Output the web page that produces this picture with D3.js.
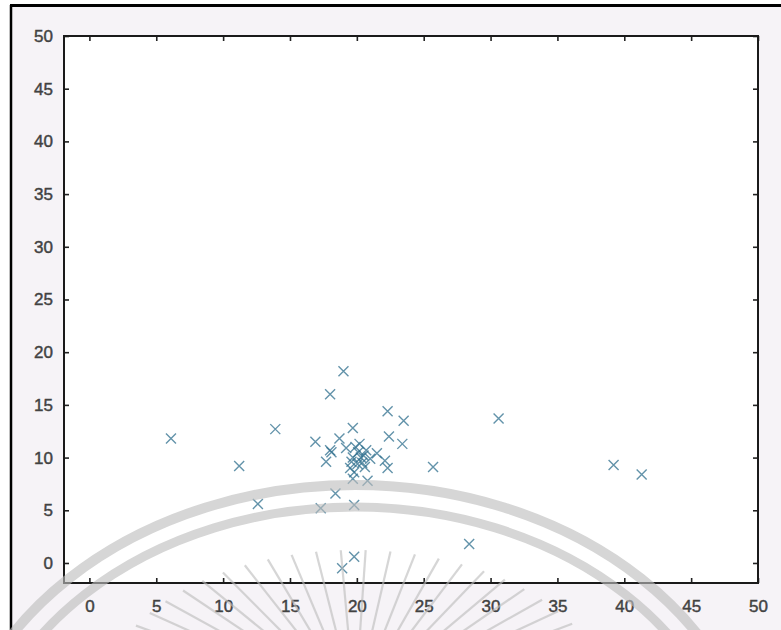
<!DOCTYPE html>
<html>
<head>
<meta charset="utf-8">
<script src="https://cdn.jsdelivr.net/npm/d3@7"></script>
<style>
  html, body { margin: 0; padding: 0; background: #ffffff; }
  svg { display: block; }
  .tick text { font-family: "Liberation Sans", Arial, sans-serif; }
</style>
</head>
<body>
<svg id="chart" width="781" height="630"></svg>
<script>
// Scatter samples (x, y)
const xValues = [
  6.1, 11.2, 13.9, 12.6, 19.0, 18.0, 22.3, 23.5, 22.4, 23.4, 25.7, 28.4, 30.6, 39.2, 41.3,
  16.9, 17.7, 17.3, 18.4, 19.8, 19.8, 18.9,
  19.7, 18.7, 18.1, 19.2, 20.2, 20.7, 21.5, 22.1, 22.3, 19.7, 20.05, 19.5, 19.8, 20.6,
  21.0, 20.4, 19.7, 20.8, 20.1, 19.9, 20.5, 18.0, 19.6, 20.3
];
const yValues = [
  11.8, 9.2, 12.7, 5.6, 18.2, 16.0, 14.4, 13.5, 12.0, 11.3, 9.1, 1.8, 13.7, 9.3, 8.4,
  11.5, 9.6, 5.2, 6.6, 5.5, 0.6, -0.5,
  12.8, 11.8, 10.5, 10.9, 11.3, 10.7, 10.4, 9.7, 9.0, 10.0, 9.4, 9.0, 8.6, 9.1,
  9.9, 9.5, 8.0, 7.8, 10.5, 11.0, 10.2, 10.7, 9.6, 10.0
];
const xTicks = [0, 5, 10, 15, 20, 25, 30, 35, 40, 45, 50];
const yTicks = [0, 5, 10, 15, 20, 25, 30, 35, 40, 45, 50];
const xDomain = [-1.9, 50];
const yDomain = [-1.9, 50];

const svg = d3.select("#chart");
const W = 781, H = 630;
const plot = { left: 64, top: 36, right: 758, bottom: 583 };

// page frame and grey backdrop
svg.append("rect").attr("x", 11).attr("y", 5).attr("width", W - 11).attr("height", H - 5)
  .attr("fill", "#f6f3f7");
svg.append("line").attr("x1", 11).attr("x2", 11).attr("y1", 5).attr("y2", H)
  .attr("stroke", "#000").attr("stroke-width", 2.5);
svg.append("line").attr("x1", 10).attr("x2", W).attr("y1", 5.5).attr("y2", 5.5)
  .attr("stroke", "#000").attr("stroke-width", 3);

const x = d3.scaleLinear().domain(xDomain).range([plot.left, plot.right]);
const y = d3.scaleLinear().domain(yDomain).range([plot.bottom, plot.top]);

// axes box
svg.append("rect")
  .attr("x", plot.left).attr("y", plot.top)
  .attr("width", plot.right - plot.left).attr("height", plot.bottom - plot.top)
  .attr("fill", "#ffffff");

function styleAxis(g, showText) {
  g.select(".domain").remove();
  g.selectAll(".tick line").attr("stroke", "#222").attr("stroke-width", 1.6);
  g.selectAll(".tick text")
    .attr("fill", "#333").attr("stroke", "#333").attr("stroke-width", 0.45)
    .attr("font-size", 17)
    .attr("opacity", showText ? 0.92 : 0);
}

svg.append("g").attr("transform", `translate(0,${plot.bottom})`)
  .call(d3.axisBottom(x).tickValues(xTicks).tickSize(-5).tickPadding(17).tickFormat(d3.format("d")))
  .call(g => styleAxis(g, true));
svg.append("g").attr("transform", `translate(0,${plot.top})`)
  .call(d3.axisTop(x).tickValues(xTicks).tickSize(-5).tickFormat(""))
  .call(g => styleAxis(g, false));
svg.append("g").attr("transform", `translate(${plot.left},0)`)
  .call(d3.axisLeft(y).tickValues(yTicks).tickSize(-5).tickPadding(11).tickFormat(d3.format("d")))
  .call(g => styleAxis(g, true));
svg.append("g").attr("transform", `translate(${plot.right},0)`)
  .call(d3.axisRight(y).tickValues(yTicks).tickSize(-5).tickFormat(""))
  .call(g => styleAxis(g, false));

svg.append("rect")
  .attr("x", plot.left).attr("y", plot.top)
  .attr("width", plot.right - plot.left).attr("height", plot.bottom - plot.top)
  .attr("fill", "none").attr("stroke", "#1a1a1a").attr("stroke-width", 2);

// x markers
const pts = xValues.map((v, i) => [v, yValues[i]]);
const s = 5;
const marks = svg.append("g");
marks.selectAll("path").data(pts).join("path")
  .attr("d", d => {
    const cx = x(d[0]), cy = y(d[1]);
    return `M${cx - s},${cy - s}L${cx + s},${cy + s}M${cx - s},${cy + s}L${cx + s},${cy - s}`;
  })
  .attr("fill", "none")
  .attr("stroke", "#2f6f8e")
  .attr("stroke-width", 1.4)
  .attr("stroke-opacity", 0.75);

// faint emblem over the lower part of the page
const em = svg.append("g").attr("fill", "none").attr("stroke", "#bdbdbd").attr("opacity", 0.62);
const cx0 = 355, cy0 = 805;
em.append("ellipse").attr("cx", cx0).attr("cy", cy0).attr("rx", 405).attr("ry", 320)
  .attr("stroke-width", 10);
em.append("ellipse").attr("cx", cx0).attr("cy", cy0).attr("rx", 382).attr("ry", 298)
  .attr("stroke-width", 9);
// sun rays converging to a point just below the page
const rc = { x: 355, y: 705 };
const rayAngles = d3.range(-76, 77, 5.6);
em.selectAll("line.ray").data(rayAngles).join("line")
  .attr("class", "ray")
  .attr("x1", a => rc.x + 255 * Math.sin(a * Math.PI / 180))
  .attr("y1", a => rc.y - 155 * Math.cos(a * Math.PI / 180))
  .attr("x2", a => rc.x + 60 * Math.sin(a * Math.PI / 180))
  .attr("y2", a => rc.y - 36 * Math.cos(a * Math.PI / 180))
  .attr("stroke-width", 2.2);
</script>
</body>
</html>
